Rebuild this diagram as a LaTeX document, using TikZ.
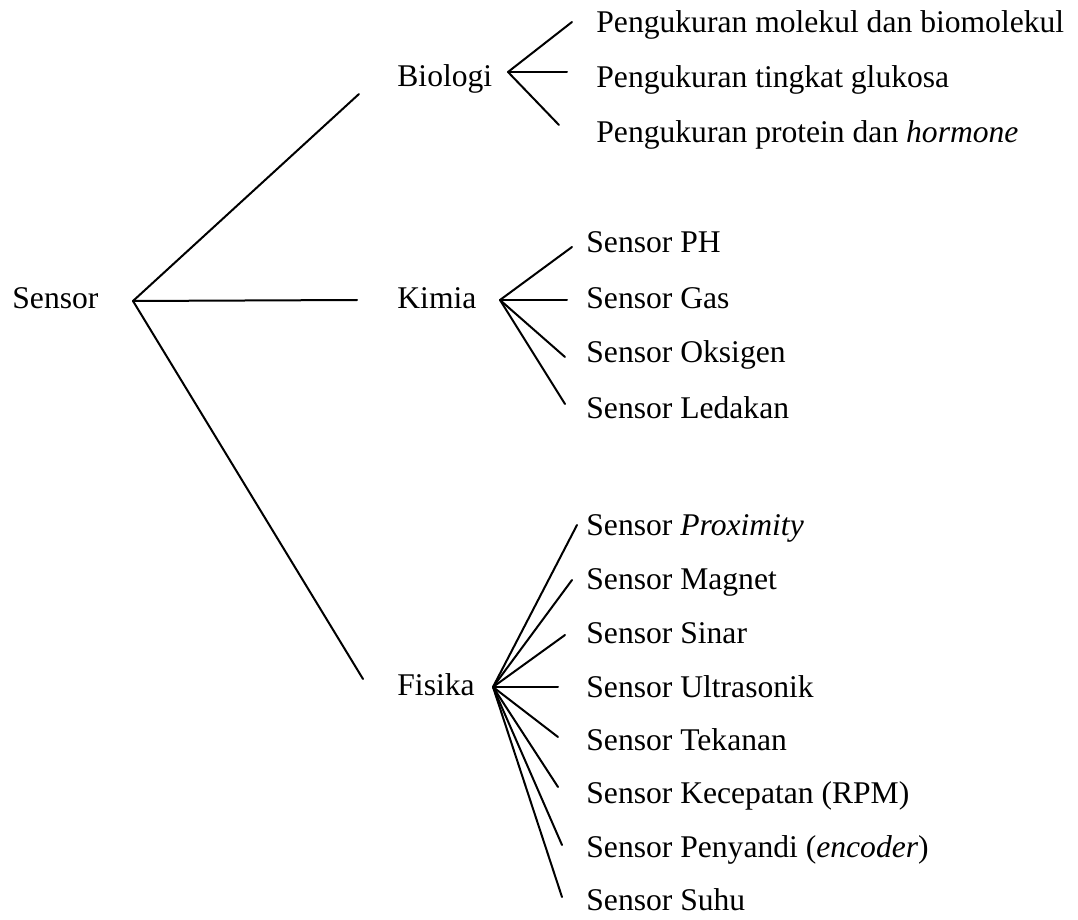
\documentclass[tikz,border=0pt]{standalone}
\usepackage{fontspec}
\setmainfont{Liberation Serif}
\tikzset{
  lbl/.style={inner sep=0pt, anchor=base west, font=\fontsize{15.8}{19}\selectfont},
  twig/.style={line width=1pt, line cap=round}
}
\begin{document}
\begin{tikzpicture}[x=0.5pt, y=-0.5pt]

\useasboundingbox (0,0) rectangle (1078,920);

\node[lbl] (sensor) at (12,308) {Sensor};
\node[lbl] (bio) at (397,87) {Biologi};
\node[lbl] (kim) at (397,308) {Kimia};
\node[lbl] (fis) at (397,695) {Fisika};

\node[lbl] (bio1) at (596,33) {Pengukuran molekul dan biomolekul};
\node[lbl] (bio2) at (596,88) {Pengukuran tingkat glukosa};
\node[lbl] (bio3) at (596,143) {Pengukuran protein dan \textit{hormone}};

\node[lbl] (kim1) at (586,253) {Sensor PH};
\node[lbl] (kim2) at (586,308) {Sensor Gas};
\node[lbl] (kim3) at (586,363) {Sensor Oksigen};
\node[lbl] (kim4) at (586,418) {Sensor Ledakan};

\node[lbl] (fis1) at (586,535) {Sensor \textit{Proximity}};
\node[lbl] (fis2) at (586,589) {Sensor Magnet};
\node[lbl] (fis3) at (586,643) {Sensor Sinar};
\node[lbl] (fis4) at (586,697) {Sensor Ultrasonik};
\node[lbl] (fis5) at (586,750) {Sensor Tekanan};
\node[lbl] (fis6) at (586,803) {Sensor Kecepatan (RPM)};
\node[lbl] (fis7) at (586,857) {Sensor Penyandi (\textit{encoder})};
\node[lbl] (fis8) at (586,910) {Sensor Suhu};

% forks
\coordinate (sensor-fork) at (133,301);
\coordinate (bio-fork) at (508,72);
\coordinate (kim-fork) at (500,300);
\coordinate (fis-fork) at (493,687);

% branch tips
\coordinate (bio-tip) at (359,94);
\coordinate (kim-tip) at (357,300);
\coordinate (fis-tip) at (363,679);

\coordinate (bio1-tip) at (572,22);
\coordinate (bio2-tip) at (567,72);
\coordinate (bio3-tip) at (559,125);

\coordinate (kim1-tip) at (572,247);
\coordinate (kim2-tip) at (567,300);
\coordinate (kim3-tip) at (565,357);
\coordinate (kim4-tip) at (565,404);

\coordinate (fis1-tip) at (577,525);
\coordinate (fis2-tip) at (572,580);
\coordinate (fis3-tip) at (565,635);
\coordinate (fis4-tip) at (558,687);
\coordinate (fis5-tip) at (558,737);
\coordinate (fis6-tip) at (558,787);
\coordinate (fis7-tip) at (562,845);
\coordinate (fis8-tip) at (562,897);

\draw[twig] (sensor-fork) -- (bio-tip);
\draw[twig] (sensor-fork) -- (kim-tip);
\draw[twig] (sensor-fork) -- (fis-tip);

\draw[twig] (bio-fork) -- (bio1-tip);
\draw[twig] (bio-fork) -- (bio2-tip);
\draw[twig] (bio-fork) -- (bio3-tip);

\draw[twig] (kim-fork) -- (kim1-tip);
\draw[twig] (kim-fork) -- (kim2-tip);
\draw[twig] (kim-fork) -- (kim3-tip);
\draw[twig] (kim-fork) -- (kim4-tip);

\draw[twig] (fis-fork) -- (fis1-tip);
\draw[twig] (fis-fork) -- (fis2-tip);
\draw[twig] (fis-fork) -- (fis3-tip);
\draw[twig] (fis-fork) -- (fis4-tip);
\draw[twig] (fis-fork) -- (fis5-tip);
\draw[twig] (fis-fork) -- (fis6-tip);
\draw[twig] (fis-fork) -- (fis7-tip);
\draw[twig] (fis-fork) -- (fis8-tip);

\end{tikzpicture}
\end{document}
